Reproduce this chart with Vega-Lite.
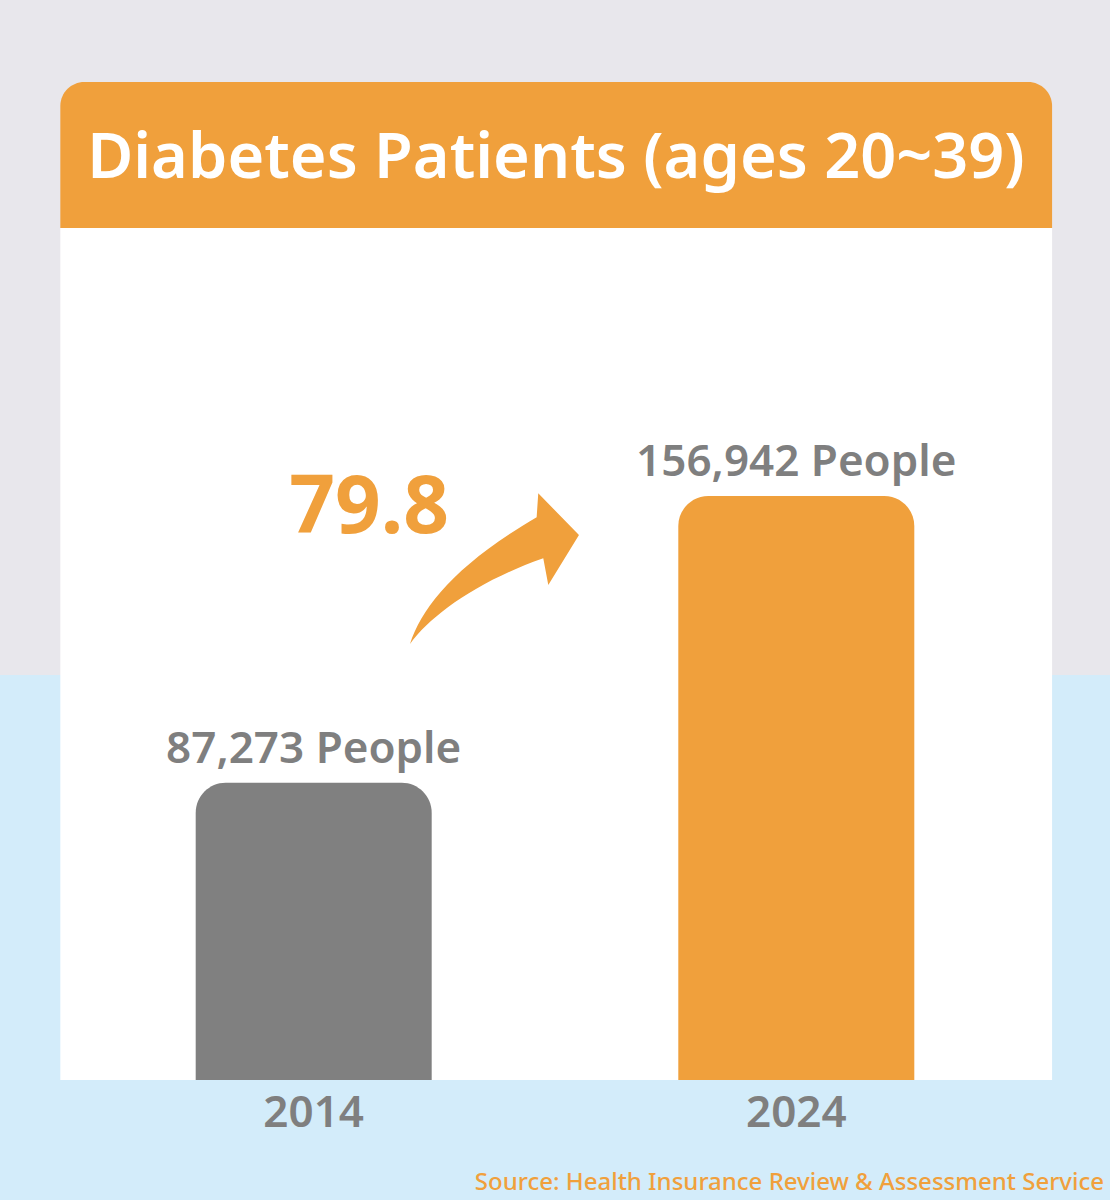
{
  "$schema": "https://vega.github.io/schema/vega-lite/v6.json",
  "width": 1110,
  "height": 1200,
  "autosize": {"type": "none", "contains": "padding"},
  "padding": 0,
  "background": "#e8e7ec",
  "view": {
    "stroke": null,
    "fill": {
      "gradient": "linear", "x1": 0, "y1": 0, "x2": 0, "y2": 1,
      "stops": [
        {"offset": 0, "color": "#e8e7ec"},
        {"offset": 0.5625, "color": "#e8e7ec"},
        {"offset": 0.5625, "color": "#d3ecfa"},
        {"offset": 1, "color": "#d3ecfa"}
      ]
    }
  },
  "config": {"font": "Noto Sans"},
  "data": {"values": [
    {"year": 2014, "patients": 87273},
    {"year": 2024, "patients": 156942}
  ]},
  "layer": [
    {
      "data": {"values": [{"part": "header"}]},
      "mark": {"type": "rect", "color": "#f0a03c", "cornerRadiusTopLeft": 24, "cornerRadiusTopRight": 24},
      "encoding": {
        "x": {"datum": 2008.75, "type": "quantitative", "scale": {"domain": [2007.5, 2030.5], "nice": false, "zero": false, "padding": 0}, "axis": null},
        "x2": {"datum": 2029.3},
        "y": {"datum": 222078, "type": "quantitative", "scale": {"domain": [-14166, 277493], "nice": false, "zero": false, "padding": 0}, "axis": null},
        "y2": {"datum": 257563}
      }
    },
    {
      "data": {"values": [{"part": "card"}]},
      "mark": {"type": "rect", "color": "#ffffff"},
      "encoding": {
        "x": {"datum": 2008.75, "type": "quantitative"},
        "x2": {"datum": 2029.3},
        "y": {"datum": 15000, "type": "quantitative"},
        "y2": {"datum": 222078}
      }
    },
    {
      "mark": {"type": "bar", "size": 236, "cornerRadiusTopLeft": 30, "cornerRadiusTopRight": 30},
      "encoding": {
        "x": {"field": "year", "type": "quantitative"},
        "y": {"field": "patients", "type": "quantitative"},
        "y2": {"datum": 15000},
        "color": {"field": "year", "type": "nominal", "scale": {"domain": [2014, 2024], "range": ["#808080", "#f0a03c"]}, "legend": null}
      }
    },
    {
      "transform": [{"calculate": "format(datum.patients, ',') + ' People'", "as": "label"}],
      "mark": {"type": "text", "fontSize": 44, "fontWeight": 600, "color": "#7f7f7f", "align": "center", "baseline": "alphabetic", "dy": -20},
      "encoding": {
        "x": {"field": "year", "type": "quantitative"},
        "y": {"field": "patients", "type": "quantitative"},
        "text": {"field": "label"}
      }
    },
    {
      "mark": {"type": "text", "fontSize": 44, "fontWeight": 600, "color": "#7f7f7f", "align": "center", "baseline": "alphabetic", "dy": 47},
      "encoding": {
        "x": {"field": "year", "type": "quantitative"},
        "y": {"datum": 15000, "type": "quantitative"},
        "text": {"field": "year", "type": "nominal"}
      }
    },
    {
      "data": {"values": [{"growth": 79.8}]},
      "mark": {"type": "text", "fontSize": 80, "fontWeight": "bold", "color": "#f0a03c", "align": "center", "baseline": "alphabetic"},
      "encoding": {
        "x": {"datum": 2015.146, "type": "quantitative"},
        "y": {"datum": 147948, "type": "quantitative"},
        "text": {"field": "growth", "type": "quantitative", "format": ".1f"}
      }
    },
    {
      "data": {"values": [{"part": "arrow"}]},
      "mark": {
        "type": "point", "filled": true, "opacity": 1, "color": "#f0a03c", "strokeWidth": 0, "size": 28900,
        "shape": "M -0.994 0.888 C -0.85 0.45 -0.45 -0.05 0.496 -0.602 L 0.515 -0.885 L 0.994 -0.394 L 0.633 0.194 L 0.574 -0.12 C -0.2 0.15 -0.75 0.55 -0.994 0.888 Z"
      },
      "encoding": {
        "x": {"datum": 2017.746, "type": "quantitative"},
        "y": {"datum": 139320, "type": "quantitative"}
      }
    },
    {
      "data": {"values": [{"title": "Diabetes Patients (ages 20~39)"}]},
      "mark": {"type": "text", "fontSize": 63, "fontWeight": 600, "color": "#ffffff", "align": "center", "baseline": "alphabetic"},
      "encoding": {
        "x": {"datum": 2019.02, "type": "quantitative"},
        "y": {"datum": 234230, "type": "quantitative"},
        "text": {"field": "title"}
      }
    },
    {
      "data": {"values": [{"source": "Source: Health Insurance Review & Assessment Service"}]},
      "mark": {"type": "text", "fontSize": 24, "fontWeight": 500, "color": "#f0a03c", "align": "right", "baseline": "alphabetic"},
      "encoding": {
        "x": {"datum": 2030.376, "type": "quantitative"},
        "y": {"datum": -11735, "type": "quantitative"},
        "text": {"field": "source"}
      }
    }
  ]
}
